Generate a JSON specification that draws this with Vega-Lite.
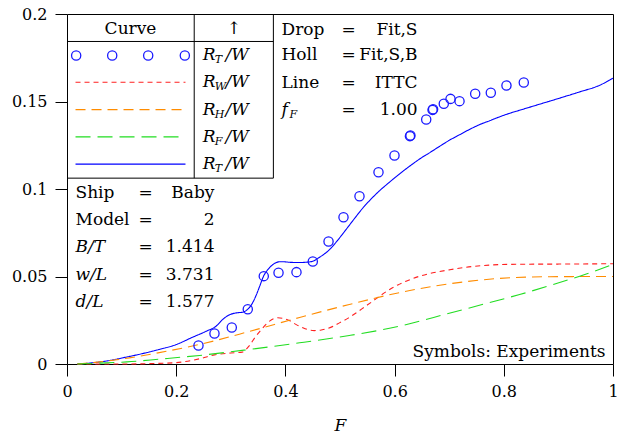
{
  "$schema": "https://vega.github.io/schema/vega-lite/v6.json",
  "width": 546,
  "height": 350,
  "autosize": {"type": "none"},
  "padding": {"left": 67, "top": 14, "right": 13, "bottom": 73},
  "background": "white",
  "config": {
    "view": {"stroke": "black", "strokeWidth": 1},
    "font": "DejaVu Serif",
    "text": {"font": "DejaVu Serif", "fontSize": 17, "baseline": "middle", "color": "black"},
    "axis": {"grid": false, "domain": false, "tickColor": "black", "tickSize": 12, "labelFont": "DejaVu Serif", "labelFontSize": 16, "labelColor": "black", "titleFont": "DejaVu Serif", "titleColor": "black"}
  },
  "datasets": {
    "curves": [
      {"series": "RT", "F": 0.019, "R": 0}, {"series": "RT", "F": 0.047, "R": 0.0007}, {"series": "RT", "F": 0.078, "R": 0.002}, {"series": "RT", "F": 0.108, "R": 0.0039}, {"series": "RT", "F": 0.139, "R": 0.006}, {"series": "RT", "F": 0.169, "R": 0.0083}, {"series": "RT", "F": 0.2, "R": 0.0111}, {"series": "RT", "F": 0.23, "R": 0.0153}, {"series": "RT", "F": 0.255, "R": 0.0187}, {"series": "RT", "F": 0.273, "R": 0.0216}, {"series": "RT", "F": 0.285, "R": 0.0254}, {"series": "RT", "F": 0.298, "R": 0.0282}, {"series": "RT", "F": 0.31, "R": 0.0292}, {"series": "RT", "F": 0.322, "R": 0.0296}, {"series": "RT", "F": 0.33, "R": 0.031}, {"series": "RT", "F": 0.34, "R": 0.035}, {"series": "RT", "F": 0.347, "R": 0.0397}, {"series": "RT", "F": 0.353, "R": 0.0445}, {"series": "RT", "F": 0.36, "R": 0.0502}, {"series": "RT", "F": 0.368, "R": 0.054}, {"series": "RT", "F": 0.375, "R": 0.0563}, {"series": "RT", "F": 0.382, "R": 0.0578}, {"series": "RT", "F": 0.389, "R": 0.0584}, {"series": "RT", "F": 0.398, "R": 0.0584}, {"series": "RT", "F": 0.408, "R": 0.0581}, {"series": "RT", "F": 0.426, "R": 0.058}, {"series": "RT", "F": 0.44, "R": 0.0582}, {"series": "RT", "F": 0.45, "R": 0.0587}, {"series": "RT", "F": 0.462, "R": 0.0609}, {"series": "RT", "F": 0.481, "R": 0.0654}, {"series": "RT", "F": 0.496, "R": 0.0708}, {"series": "RT", "F": 0.511, "R": 0.0768}, {"series": "RT", "F": 0.527, "R": 0.0833}, {"series": "RT", "F": 0.542, "R": 0.0892}, {"series": "RT", "F": 0.557, "R": 0.0943}, {"series": "RT", "F": 0.572, "R": 0.0989}, {"series": "RT", "F": 0.588, "R": 0.1032}, {"series": "RT", "F": 0.603, "R": 0.1071}, {"series": "RT", "F": 0.618, "R": 0.1108}, {"series": "RT", "F": 0.633, "R": 0.1143}, {"series": "RT", "F": 0.648, "R": 0.1176}, {"series": "RT", "F": 0.664, "R": 0.1207}, {"series": "RT", "F": 0.682, "R": 0.1243}, {"series": "RT", "F": 0.7, "R": 0.1278}, {"series": "RT", "F": 0.719, "R": 0.131}, {"series": "RT", "F": 0.737, "R": 0.134}, {"series": "RT", "F": 0.755, "R": 0.1367}, {"series": "RT", "F": 0.774, "R": 0.139}, {"series": "RT", "F": 0.792, "R": 0.1412}, {"series": "RT", "F": 0.81, "R": 0.1432}, {"series": "RT", "F": 0.829, "R": 0.145}, {"series": "RT", "F": 0.865, "R": 0.1484}, {"series": "RT", "F": 0.902, "R": 0.1519}, {"series": "RT", "F": 0.939, "R": 0.1555}, {"series": "RT", "F": 0.975, "R": 0.1592}, {"series": "RT", "F": 1.0, "R": 0.1633},
      {"series": "RW", "F": 0.019, "R": 0}, {"series": "RW", "F": 0.1, "R": 0}, {"series": "RW", "F": 0.15, "R": 0.0002}, {"series": "RW", "F": 0.2, "R": 0.0008}, {"series": "RW", "F": 0.243, "R": 0.003}, {"series": "RW", "F": 0.27, "R": 0.0052}, {"series": "RW", "F": 0.3, "R": 0.0063}, {"series": "RW", "F": 0.321, "R": 0.0068}, {"series": "RW", "F": 0.334, "R": 0.0105}, {"series": "RW", "F": 0.345, "R": 0.0155}, {"series": "RW", "F": 0.356, "R": 0.0197}, {"series": "RW", "F": 0.371, "R": 0.0245}, {"series": "RW", "F": 0.386, "R": 0.0264}, {"series": "RW", "F": 0.397, "R": 0.026}, {"series": "RW", "F": 0.407, "R": 0.0248}, {"series": "RW", "F": 0.42, "R": 0.0225}, {"series": "RW", "F": 0.432, "R": 0.0207}, {"series": "RW", "F": 0.443, "R": 0.0195}, {"series": "RW", "F": 0.453, "R": 0.0191}, {"series": "RW", "F": 0.464, "R": 0.0193}, {"series": "RW", "F": 0.475, "R": 0.0201}, {"series": "RW", "F": 0.487, "R": 0.0215}, {"series": "RW", "F": 0.499, "R": 0.0235}, {"series": "RW", "F": 0.515, "R": 0.0262}, {"series": "RW", "F": 0.53, "R": 0.0293}, {"series": "RW", "F": 0.545, "R": 0.0326}, {"series": "RW", "F": 0.56, "R": 0.0359}, {"series": "RW", "F": 0.575, "R": 0.0393}, {"series": "RW", "F": 0.591, "R": 0.0426}, {"series": "RW", "F": 0.606, "R": 0.0452}, {"series": "RW", "F": 0.621, "R": 0.0473}, {"series": "RW", "F": 0.645, "R": 0.0501}, {"series": "RW", "F": 0.67, "R": 0.0521}, {"series": "RW", "F": 0.7, "R": 0.0538}, {"series": "RW", "F": 0.731, "R": 0.0553}, {"series": "RW", "F": 0.76, "R": 0.0562}, {"series": "RW", "F": 0.792, "R": 0.0568}, {"series": "RW", "F": 0.829, "R": 0.057}, {"series": "RW", "F": 0.9, "R": 0.0571}, {"series": "RW", "F": 1.0, "R": 0.0573},
      {"series": "RH", "F": 0.019, "R": 0}, {"series": "RH", "F": 0.06, "R": 0.0012}, {"series": "RH", "F": 0.114, "R": 0.0035}, {"series": "RH", "F": 0.169, "R": 0.0065}, {"series": "RH", "F": 0.243, "R": 0.0112}, {"series": "RH", "F": 0.334, "R": 0.0186}, {"series": "RH", "F": 0.426, "R": 0.0266}, {"series": "RH", "F": 0.517, "R": 0.034}, {"series": "RH", "F": 0.609, "R": 0.0408}, {"series": "RH", "F": 0.7, "R": 0.0458}, {"series": "RH", "F": 0.792, "R": 0.0489}, {"series": "RH", "F": 0.884, "R": 0.0499}, {"series": "RH", "F": 1.0, "R": 0.05},
      {"series": "RF", "F": 0.019, "R": 0}, {"series": "RF", "F": 0.06, "R": 0.0005}, {"series": "RF", "F": 0.11, "R": 0.0012}, {"series": "RF", "F": 0.17, "R": 0.0028}, {"series": "RF", "F": 0.243, "R": 0.0049}, {"series": "RF", "F": 0.334, "R": 0.0083}, {"series": "RF", "F": 0.426, "R": 0.0121}, {"series": "RF", "F": 0.517, "R": 0.0163}, {"series": "RF", "F": 0.609, "R": 0.0216}, {"series": "RF", "F": 0.7, "R": 0.029}, {"series": "RF", "F": 0.792, "R": 0.0366}, {"series": "RF", "F": 0.829, "R": 0.0397}, {"series": "RF", "F": 0.89, "R": 0.0454}, {"series": "RF", "F": 0.951, "R": 0.0514}, {"series": "RF", "F": 1.0, "R": 0.0569}
    ],
    "exp": [
      {"F": 0.2408, "R": 0.0106}, {"F": 0.2701, "R": 0.0174}, {"F": 0.3018, "R": 0.0209}, {"F": 0.3311, "R": 0.0313}, {"F": 0.3604, "R": 0.0502}, {"F": 0.3874, "R": 0.0521}, {"F": 0.4203, "R": 0.0525}, {"F": 0.4502, "R": 0.0586}, {"F": 0.479, "R": 0.07}, {"F": 0.5064, "R": 0.0839}, {"F": 0.5357, "R": 0.0959}, {"F": 0.5705, "R": 0.1096}, {"F": 0.5998, "R": 0.1191}, {"F": 0.6281, "R": 0.1302}, {"F": 0.629, "R": 0.1306}, {"F": 0.6579, "R": 0.1397}, {"F": 0.6695, "R": 0.1452}, {"F": 0.6705, "R": 0.1456}, {"F": 0.6901, "R": 0.1487}, {"F": 0.7024, "R": 0.1515}, {"F": 0.7189, "R": 0.1502}, {"F": 0.7476, "R": 0.1544}, {"F": 0.7762, "R": 0.155}, {"F": 0.8049, "R": 0.1591}, {"F": 0.8366, "R": 0.1609}
    ],
    "box": [
      {"F": 0, "F2": 0.378, "R": 0.1843, "R2": 0.1843},
      {"F": 0, "F2": 0.378, "R": 0.1062, "R2": 0.1062},
      {"F": 0.378, "F2": 0.378, "R": 0.1062, "R2": 0.2},
      {"F": 0.233, "F2": 0.233, "R": 0.1062, "R2": 0.2}
    ],
    "legendLines": [
      {"series": "RW", "F": 0.0156, "F2": 0.217, "R": 0.161},
      {"series": "RH", "F": 0.0156, "F2": 0.217, "R": 0.1454},
      {"series": "RF", "F": 0.0156, "F2": 0.217, "R": 0.1298},
      {"series": "RT", "F": 0.0156, "F2": 0.217, "R": 0.1142}
    ],
    "legendDots": [
      {"F": 0.0168, "R": 0.1763}, {"F": 0.0828, "R": 0.1763}, {"F": 0.1487, "R": 0.1763}, {"F": 0.2158, "R": 0.1763}
    ],
    "legendLabels": [
      {"F": 0.2487, "R": 0.1763, "sub": "T"},
      {"F": 0.2487, "R": 0.161, "sub": "W"},
      {"F": 0.2487, "R": 0.1454, "sub": "H"},
      {"F": 0.2487, "R": 0.1298, "sub": "F"},
      {"F": 0.2487, "R": 0.1142, "sub": "T"}
    ],
    "headers": [
      {"F": 0.1163, "R": 0.1917, "t": "Curve"},
      {"F": 0.3056, "R": 0.1917, "t": "↑"}
    ],
    "params": [
      {"lab": "Drop", "val": "Fit,S", "it": false, "F": 0.3929, "Fe": 0.5156, "Fv": 0.642, "R": 0.1911},
      {"lab": "Holl", "val": "Fit,S,B", "it": false, "F": 0.3929, "Fe": 0.5156, "Fv": 0.642, "R": 0.1763},
      {"lab": "Line", "val": "ITTC", "it": false, "F": 0.3929, "Fe": 0.5156, "Fv": 0.642, "R": 0.1603},
      {"lab": "f", "val": "1.00", "it": true, "F": 0.3929, "Fe": 0.5156, "Fv": 0.642, "R": 0.1454},
      {"lab": "Ship", "val": "Baby", "it": false, "F": 0.0156, "Fe": 0.1438, "Fv": 0.2701, "R": 0.098},
      {"lab": "Model", "val": "2", "it": false, "F": 0.0156, "Fe": 0.1438, "Fv": 0.2701, "R": 0.0822},
      {"lab": "B/T", "val": "1.414", "it": true, "F": 0.0156, "Fe": 0.1438, "Fv": 0.2701, "R": 0.0666},
      {"lab": "w/L", "val": "3.731", "it": true, "F": 0.0156, "Fe": 0.1438, "Fv": 0.2701, "R": 0.0507},
      {"lab": "d/L", "val": "1.577", "it": true, "F": 0.0156, "Fe": 0.1438, "Fv": 0.2701, "R": 0.0357}
    ],
    "fsub": [
      {"F": 0.3929, "R": 0.1454, "sub": "F"}
    ],
    "note": [
      {"F": 0.9863, "R": 0.0067, "t": "Symbols: Experiments"}
    ]
  },
  "encoding": {
    "x": {"field": "F", "type": "quantitative", "scale": {"domain": [0, 1], "nice": false, "zero": false},
      "axis": {"values": [0, 0.2, 0.4, 0.6, 0.8, 1], "format": "~g", "title": "F", "titleFontStyle": "italic", "titleFontSize": 17, "titleFontWeight": "normal", "labelPadding": 7, "titlePadding": 18, "labelFlush": false, "labelOverlap": false}},
    "y": {"field": "R", "type": "quantitative", "scale": {"domain": [0, 0.2], "nice": false, "zero": false},
      "axis": {"values": [0, 0.05, 0.1, 0.15, 0.2], "format": "~g", "title": null, "labelPadding": 8, "labelOverlap": false}}
  },
  "layer": [
    {
      "data": {"name": "curves"},
      "mark": {"type": "line", "strokeWidth": 1.1, "interpolate": "monotone"},
      "encoding": {
        "color": {"field": "series", "type": "nominal", "scale": {"domain": ["RW", "RH", "RF", "RT"], "range": ["#ff2020", "#ff8c00", "#22dd22", "#0000ff"]}, "legend": null},
        "strokeDash": {"field": "series", "type": "nominal", "scale": {"domain": ["RW", "RH", "RF", "RT"], "range": [[5, 4], [10, 6], [15, 7], [1, 0]]}, "legend": null}
      }
    },
    {
      "data": {"name": "exp"},
      "mark": {"type": "point", "shape": "circle", "filled": false, "size": 85, "strokeWidth": 1.3, "color": "#1a1aff", "opacity": 1},
      "encoding": {}
    },
    {
      "data": {"name": "box"},
      "mark": {"type": "rule", "color": "black", "strokeWidth": 1},
      "encoding": {"x2": {"field": "F2"}, "y2": {"field": "R2"}}
    },
    {
      "data": {"name": "legendLines"},
      "mark": {"type": "rule", "strokeWidth": 1.2},
      "encoding": {
        "x2": {"field": "F2"},
        "color": {"field": "series", "type": "nominal", "scale": {"domain": ["RW", "RH", "RF", "RT"], "range": ["#ff2020", "#ff8c00", "#22dd22", "#0000ff"]}, "legend": null},
        "strokeDash": {"field": "series", "type": "nominal", "scale": {"domain": ["RW", "RH", "RF", "RT"], "range": [[5, 4], [10, 6], [15, 7], [1, 0]]}, "legend": null}
      }
    },
    {
      "data": {"name": "legendDots"},
      "mark": {"type": "point", "shape": "circle", "filled": false, "size": 85, "strokeWidth": 1.3, "color": "#1a1aff", "opacity": 1},
      "encoding": {}
    },
    {
      "data": {"name": "legendLabels"},
      "mark": {"type": "text", "align": "left", "fontStyle": "italic", "text": "R"},
      "encoding": {}
    },
    {
      "data": {"name": "legendLabels"},
      "mark": {"type": "text", "align": "left", "fontStyle": "italic", "fontSize": 11, "dx": 12, "dy": 5},
      "encoding": {"text": {"field": "sub"}}
    },
    {
      "data": {"name": "legendLabels"},
      "mark": {"type": "text", "align": "left", "fontStyle": "italic", "text": "/W"},
      "encoding": {"x": {"datum": 0.2903}}
    },
    {
      "data": {"name": "headers"},
      "mark": {"type": "text", "align": "center"},
      "encoding": {"text": {"field": "t"}}
    },
    {
      "data": {"name": "params"},
      "transform": [{"filter": "!datum.it"}],
      "mark": {"type": "text", "align": "left"},
      "encoding": {"text": {"field": "lab"}}
    },
    {
      "data": {"name": "params"},
      "transform": [{"filter": "datum.it"}],
      "mark": {"type": "text", "align": "left", "fontStyle": "italic"},
      "encoding": {"text": {"field": "lab"}}
    },
    {
      "data": {"name": "params"},
      "mark": {"type": "text", "align": "center", "text": "="},
      "encoding": {"x": {"field": "Fe", "type": "quantitative"}}
    },
    {
      "data": {"name": "params"},
      "mark": {"type": "text", "align": "right"},
      "encoding": {"x": {"field": "Fv", "type": "quantitative"}, "text": {"field": "val"}}
    },
    {
      "data": {"name": "fsub"},
      "mark": {"type": "text", "align": "left", "fontStyle": "italic", "fontSize": 11, "dx": 8, "dy": 5},
      "encoding": {"text": {"field": "sub"}}
    },
    {
      "data": {"name": "note"},
      "mark": {"type": "text", "align": "right"},
      "encoding": {"text": {"field": "t"}}
    }
  ]
}
